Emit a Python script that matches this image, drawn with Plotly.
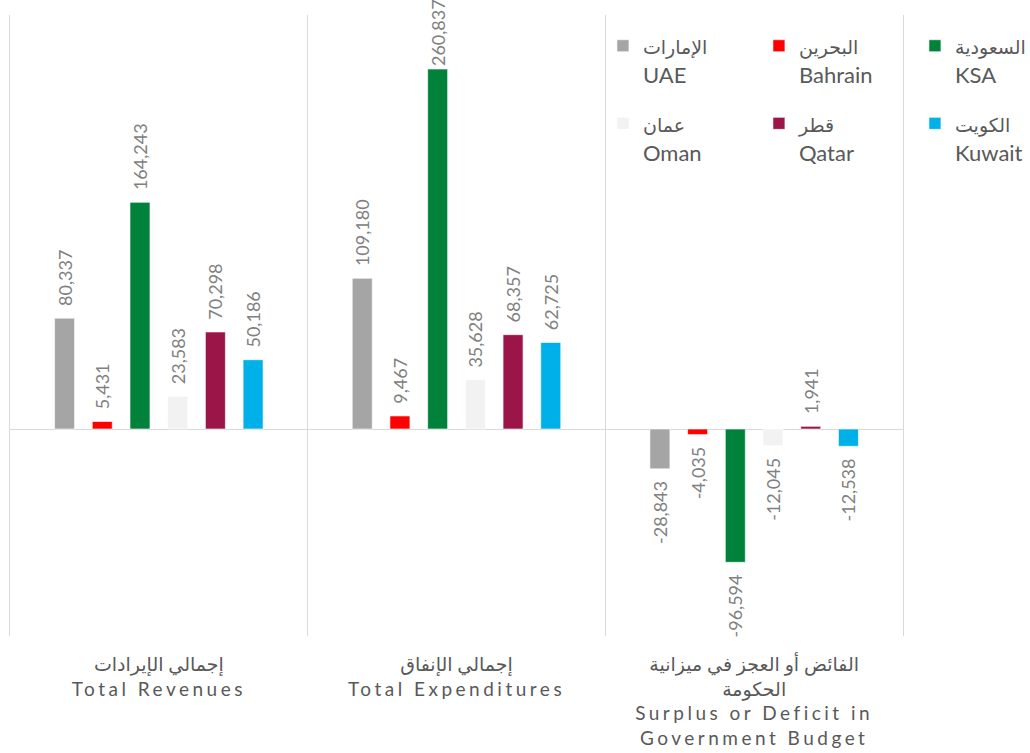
import plotly.graph_objects as go

# Budget categories (Arabic / English)
categories = [
    "إجمالي الإيرادات<br>Total Revenues",
    "إجمالي الإنفاق<br>Total Expenditures",
    "الفائض أو العجز في ميزانية<br>الحكومة<br>Surplus or Deficit in<br>Government Budget",
]

countries_ar = ["الإمارات", "البحرين", "السعودية", "عمان", "قطر", "الكويت"]
countries_en = ["UAE", "Bahrain", "KSA", "Oman", "Qatar", "Kuwait"]

# Values per country: revenues, expenditures, surplus/deficit
uae = [80337, 109180, -28843]
bahrain = [5431, 9467, -4035]
ksa = [164243, 260837, -96594]
oman = [23583, 35628, -12045]
qatar = [70298, 68357, 1941]
kuwait = [50186, 62725, -12538]

series = [uae, bahrain, ksa, oman, qatar, kuwait]
colors = ["#A5A5A5", "#FF0000", "#00823B", "#F2F2F2", "#9B1549", "#00B0E8"]

FONT = "Lato, 'DejaVu Sans', sans-serif"
Y_MAX = 300000
PAD = "\u00a0\u00a0"


def label(v):
    s = f"{v:,}"
    # labels of bars reaching close to the top edge sit tight against the bar
    if v > 0.8 * Y_MAX:
        return s
    return PAD + s if v >= 0 else s + PAD


fig = go.Figure()
for i, (vals, col) in enumerate(zip(series, colors)):
    fig.add_trace(go.Bar(
        x=categories,
        y=vals,
        name=f'<span style="font-size:19px">{countries_ar[i]}</span><br>{countries_en[i]}',
        marker=dict(color=col, line=dict(color="rgba(255,255,255,0.6)", width=1)),
        text=[label(v) for v in vals],
        textposition="outside",
        textangle=-90,
        textfont=dict(family=FONT, size=18, color="#808080"),
        cliponaxis=False,
        constraintext="none",
        legend="legend" if i < 3 else "legend2",
    ))

legend_common = dict(
    orientation="h",
    font=dict(family=FONT, size=22, color="#595959"),
    entrywidth=111,
    entrywidthmode="pixels",
    valign="top",
    bgcolor="rgba(0,0,0,0)",
    xanchor="left",
    yanchor="top",
    x=0.664,
    traceorder="normal",
)

fig.update_layout(
    width=1030,
    height=753,
    margin=dict(l=10, r=127, t=15, b=117, autoexpand=False),
    paper_bgcolor="white",
    plot_bgcolor="white",
    barmode="group",
    bargap=0.24,
    bargroupgap=0.47,
    showlegend=True,
    legend=dict(y=0.984, **legend_common),
    legend2=dict(y=0.859, **legend_common),
    xaxis=dict(
        type="category",
        tickson="boundaries",
        showgrid=True,
        gridcolor="#D9D9D9",
        gridwidth=1,
        ticks="",
        showline=False,
        ticklabelstandoff=15,
        tickfont=dict(family=FONT, size=19, color="#595959"),
    ),
    yaxis=dict(
        range=[-150000, Y_MAX],
        showgrid=False,
        showticklabels=False,
        zeroline=True,
        zerolinecolor="#D9D9D9",
        zerolinewidth=1,
        showline=True,
        linecolor="#D9D9D9",
        linewidth=1,
        mirror=True,
        ticks="",
    ),
)

spacing_js = """
document.querySelectorAll('.xtick text').forEach(function(t){ t.style.letterSpacing = '3.5px'; });
"""

fig.write_html("out.html", post_script=spacing_js)
